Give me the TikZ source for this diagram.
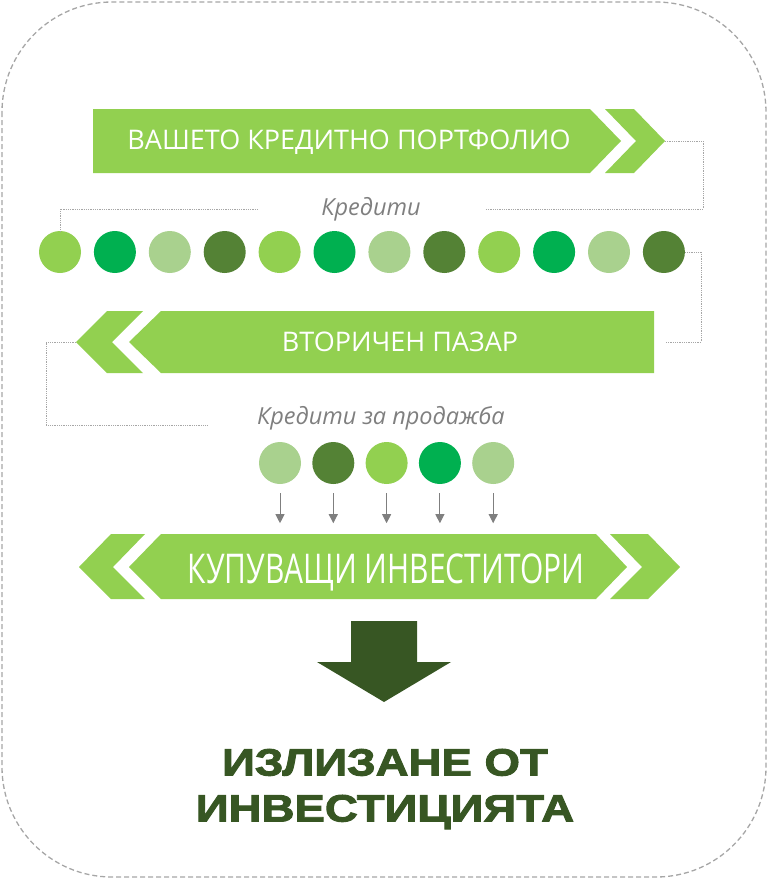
\documentclass[tikz,border=0pt]{standalone}
\usepackage{fontspec}
\usepackage{tikz}
\usetikzlibrary{arrows.meta}
\setmainfont{Open Sans}
\newfontfamily\tallfont[FakeStretch=0.73]{Open Sans}
\newfontfamily\headfont[FakeBold=2.5,FakeStretch=1.2]{Liberation Sans Bold}
\definecolor{lightgreen}{HTML}{92D050}
\definecolor{midgreen}{HTML}{00B050}
\definecolor{palegreen}{HTML}{A9D18E}
\definecolor{darkgreen}{HTML}{548235}
\definecolor{deepgreen}{HTML}{375623}
\definecolor{linegray}{HTML}{A6A6A6}
\definecolor{textgray}{HTML}{7F7F7F}
\tikzset{>={Triangle[length=9pt,width=9pt]}}

\begin{document}
\begin{tikzpicture}[x=1pt,y=-1pt,
    banner/.style={fill=lightgreen},
    label/.style={text=white,anchor=base,font=\fontsize{27}{32}\selectfont},
    caption/.style={text=textgray,font=\itshape\fontsize{23.5}{26}\selectfont},
    loan/.style={circle,minimum size=42pt,inner sep=0pt},
    link/.style={color=linegray,densely dotted,line width=0.8pt},
    feed/.style={->,color=textgray,line width=0.9pt}]
    \useasboundingbox (0,0) rectangle (768,879);
    \draw[color=linegray,dash pattern=on 5pt off 3pt,line width=1.3pt,rounded corners=110pt] (2,2) rectangle (766,877);

    % top banner
    \fill[banner] (93,109) -- (590,109) -- (621,141) -- (590,173) -- (93,173) -- cycle;
    \fill[banner] (605,109) -- (634,109) -- (665,141) -- (634,173) -- (605,173) -- (636,141) -- cycle;
    \coordinate (topTip) at (665,141);
    \node[label] (portfolio) at (349,149) {ВАШЕТО КРЕДИТНО ПОРТФОЛИО};

    \node[caption] (loans) at (371,209) {Кредити};
    \foreach \c [count=\i] in {lightgreen,midgreen,palegreen,darkgreen,lightgreen,midgreen,palegreen,darkgreen,lightgreen,midgreen,palegreen,darkgreen}
        \node[loan,fill=\c] (c\i) at ({60+54.9*(\i-1)},252) {};
    \draw[link] (topTip) -- ++(38,0) |- ([xshift=62pt]loans.east);
    \draw[link] ([xshift=-60pt]loans.west) -| (c1.north);

    % middle banner
    \fill[banner] (654,311) -- (161,311) -- (129,342) -- (161,373) -- (654,373) -- cycle;
    \fill[banner] (143,311) -- (107,311) -- (76,342) -- (107,373) -- (143,373) -- (112,342) -- cycle;
    \coordinate (midEnd) at (666,342);
    \coordinate (midTip) at (76,342);
    \node[label] (market) at (400,351) {ВТОРИЧЕН ПАЗАР};
    \draw[link] (c12.east) -- ++(16,0) |- (midEnd);

    \node[caption] (sale) at (381,418) {Кредити за продажба};
    \coordinate (saleEnd) at (208,425);
    \draw[link] (midTip) -- ++(-30,0) |- (saleEnd);
    \foreach \c [count=\i] in {palegreen,darkgreen,lightgreen,midgreen,palegreen}
        \node[loan,fill=\c] (s\i) at ({280+53.3*(\i-1)},463) {};
    \foreach \i in {1,...,5}
        \draw[feed] ([yshift=-9pt]s\i.south) -- ([yshift=-39pt]s\i.south);

    % bottom banner
    \fill[banner] (161,534) -- (596,534) -- (627,567) -- (596,599) -- (161,599) -- (129,567) -- cycle;
    \fill[banner] (145,534) -- (111,534) -- (79,567) -- (111,599) -- (145,599) -- (113,567) -- cycle;
    \fill[banner] (610,534) -- (648,534) -- (680,567) -- (648,599) -- (610,599) -- (642,567) -- cycle;
    \node[label,font=\tallfont\fontsize{41}{44}\selectfont] (buyers) at (386,583) {КУПУВАЩИ ИНВЕСТИТОРИ};

    \fill[color=deepgreen] (351,621) -- (417,621) -- (417,662) -- (451,662) -- (384,702) -- (317,662) -- (351,662) -- cycle;
    \node[text=deepgreen,align=center,font=\headfont\fontsize{38}{46}\selectfont] (exit) at (385,789) {ИЗЛИЗАНЕ ОТ\\ИНВЕСТИЦИЯТА};
\end{tikzpicture}
\end{document}
